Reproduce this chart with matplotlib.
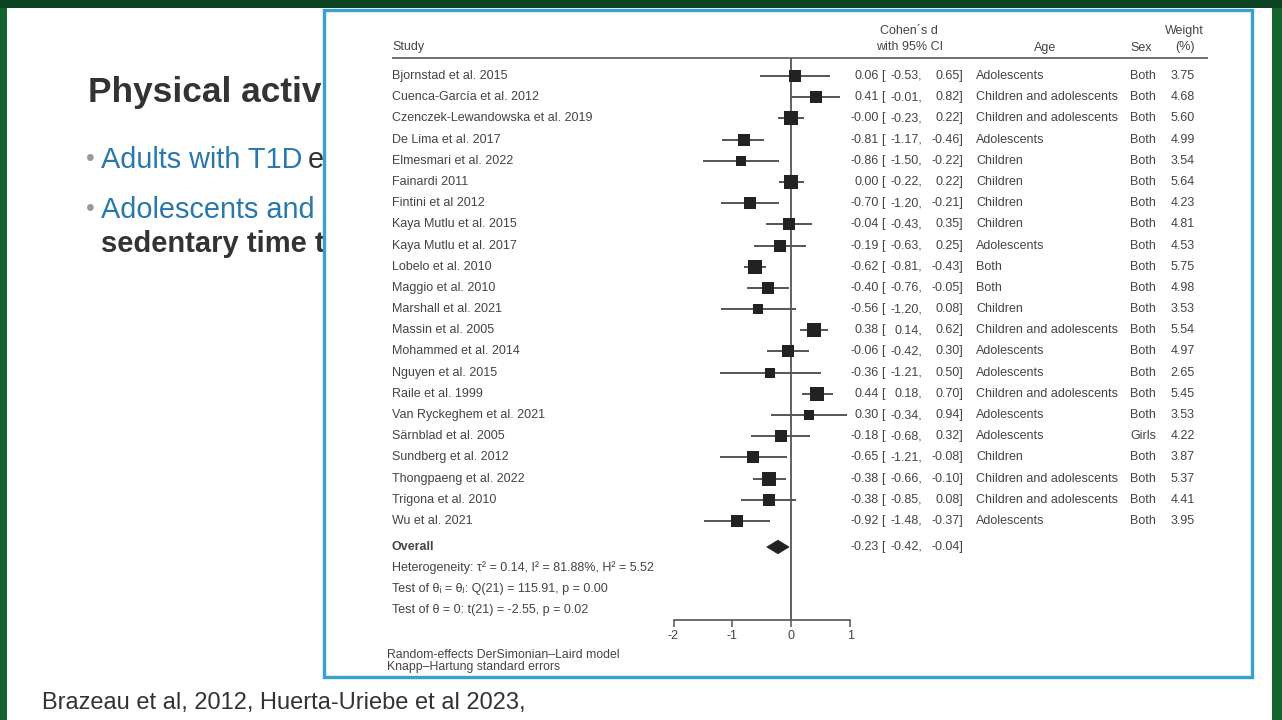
import matplotlib
matplotlib.use("Agg")
import matplotlib.pyplot as plt
import matplotlib.transforms as mtransforms
from matplotlib.patches import Rectangle, Polygon
import numpy as np

plt.rcParams['font.family'] = ['Liberation Sans', 'DejaVu Sans']

studies = ["Bjornstad et al. 2015", "Cuenca-García et al. 2012", "Czenczek-Lewandowska et al. 2019",
           "De Lima et al. 2017", "Elmesmari et al. 2022", "Fainardi 2011", "Fintini et al 2012",
           "Kaya Mutlu et al. 2015", "Kaya Mutlu et al. 2017", "Lobelo et al. 2010", "Maggio et al. 2010",
           "Marshall et al. 2021", "Massin et al. 2005", "Mohammed et al. 2014", "Nguyen et al. 2015",
           "Raile et al. 1999", "Van Ryckeghem et al. 2021", "Särnblad et al. 2005", "Sundberg et al. 2012",
           "Thongpaeng et al. 2022", "Trigona et al. 2010", "Wu et al. 2021"]
est = [0.06, 0.41, -0.00, -0.81, -0.86, 0.00, -0.70, -0.04, -0.19, -0.62, -0.40, -0.56, 0.38, -0.06,
       -0.36, 0.44, 0.30, -0.18, -0.65, -0.38, -0.38, -0.92]
lo = [-0.53, -0.01, -0.23, -1.17, -1.50, -0.22, -1.20, -0.43, -0.63, -0.81, -0.76, -1.20, 0.14, -0.42,
      -1.21, 0.18, -0.34, -0.68, -1.21, -0.66, -0.85, -1.48]
hi = [0.65, 0.82, 0.22, -0.46, -0.22, 0.22, -0.21, 0.35, 0.25, -0.43, -0.05, 0.08, 0.62, 0.30,
      0.50, 0.70, 0.94, 0.32, -0.08, -0.10, 0.08, -0.37]
age = ["Adolescents", "Children and adolescents", "Children and adolescents", "Adolescents", "Children",
       "Children", "Children", "Children", "Adolescents", "Both", "Both", "Children",
       "Children and adolescents", "Adolescents", "Adolescents", "Children and adolescents",
       "Adolescents", "Adolescents", "Children", "Children and adolescents", "Children and adolescents",
       "Adolescents"]
sex = ["Both"] * 17 + ["Girls"] + ["Both"] * 4
weight = [3.75, 4.68, 5.60, 4.99, 3.54, 5.64, 4.23, 4.81, 4.53, 5.75, 4.98, 3.53, 5.54, 4.97, 2.65,
          5.45, 3.53, 4.22, 3.87, 5.37, 4.41, 3.95]
overall = (-0.23, -0.42, -0.04)
xticks = [-2, -1, 0, 1]

W, H = 1282, 720
fig = plt.figure(figsize=(W / 100, H / 100), dpi=100)
fig.patch.set_facecolor('#13632f')

bg = fig.add_axes([0, 0, 1, 1])
bg.set_xlim(0, W)
bg.set_ylim(H, 0)
bg.axis('off')

# slide
bg.add_patch(Rectangle((7, 8), 1265, 712, facecolor='white', edgecolor='none', zorder=0))
bg.add_patch(Rectangle((0, 0), W, 8, facecolor='#0a4222', edgecolor='none', zorder=0))

txt_dark = '#333333'
blue = '#2878ad'
bg.text(88, 102, "Physical activity", fontsize=25.4, fontweight='bold', color=txt_dark, va='baseline', zorder=1)
bg.text(86, 166, "•", fontsize=18, color='#999999', va='baseline', zorder=1)
bg.text(101, 168, "Adults with T1D", fontsize=20.8, color=blue, va='baseline', zorder=1)
bg.text(308, 168, "e", fontsize=20.8, color=txt_dark, va='baseline', zorder=1)
bg.text(86, 216, "•", fontsize=18, color='#999999', va='baseline', zorder=1)
bg.text(101, 218, "Adolescents and", fontsize=20.8, color=blue, va='baseline', zorder=1)
bg.text(101, 252, "sedentary time t", fontsize=21, fontweight='bold', color=txt_dark, va='baseline', zorder=1)
bg.text(42, 709, "Brazeau et al, 2012, Huerta-Uriebe et al 2023,", fontsize=17, color=txt_dark,
        va='baseline', zorder=1)

# chart box
bg.add_patch(Rectangle((324, 10), 928, 667, facecolor='white', edgecolor='#3a9fd2', lw=2.4, zorder=2))

# forest axes
x_left, x_right = 673.5, 850.5
y_top, y_bot = 58, 620
r0, dr = 76, 21.19
ax = fig.add_axes([x_left / W, (H - y_bot) / H, (x_right - x_left) / W, (y_bot - y_top) / H])
ax.set_xlim(-2, 1)
ax.set_ylim((y_bot - r0) / dr, (y_top - r0) / dr)
ax.patch.set_alpha(0)
ax.set_zorder(3)
for s in ['top', 'left', 'right']:
    ax.spines[s].set_visible(False)
ax.spines['bottom'].set_color('#555555')
ax.spines['bottom'].set_linewidth(1.2)
ax.set_yticks([])
ax.set_xticks(xticks)
ax.set_xticklabels([str(t) for t in xticks])
ax.tick_params(axis='x', direction='out', length=5, width=1.1, color='#555555', labelsize=9,
               labelcolor='#444444', pad=2)

gray = '#555555'
ax.axvline(0, color=gray, lw=1.3, zorder=1)
rows = np.arange(len(studies))
ax.hlines(rows, lo, hi, color=gray, lw=1.4, zorder=2)
k = 5.8 * 0.72
for r, e, w in zip(rows, est, weight):
    ax.plot(e, r, marker='s', markersize=k * np.sqrt(w), color='#222222', mec='#222222', mew=0, zorder=3,
            linestyle='none')

ov_row = (547 - r0) / dr
oe, ol, oh = overall
ax.add_patch(Polygon([[ol, ov_row], [oe, ov_row - 0.32], [oh, ov_row], [oe, ov_row + 0.32]],
                     closed=True, facecolor='#222222', edgecolor='#222222', lw=0.5, zorder=3, clip_on=False))

# table text
tr = mtransforms.blended_transform_factory(bg.transData, ax.transData)
tc = '#444444'
fs = 9
hdr = dict(fontsize=fs, color=tc, transform=bg.transData, zorder=4)
bg.text(392, 47, "Study", va='center', ha='left', **hdr)
bg.text(909, 31, "Cohen´s d", va='center', ha='center', **hdr)
bg.text(910, 47, "with 95% CI", va='center', ha='center', **hdr)
bg.text(1045, 48, "Age", va='center', ha='center', **hdr)
bg.text(1141, 48, "Sex", va='center', ha='center', **hdr)
bg.text(1184, 31, "Weight", va='center', ha='center', **hdr)
bg.text(1185, 47, "(%)", va='center', ha='center', **hdr)
bg.plot([392, 1208], [58, 58], color='#666666', lw=1.3, zorder=4, solid_capstyle='butt')

kw = dict(fontsize=fs, color=tc, transform=tr, va='center', zorder=4)
for r in rows:
    ax.text(392, r, studies[r], ha='left', **kw)
    ax.text(879, r, f"{est[r]:.2f}", ha='right', **kw)
    ax.text(881, r, "[", ha='left', **kw)
    ax.text(922, r, f"{lo[r]:.2f},", ha='right', **kw)
    ax.text(963, r, f"{hi[r]:.2f}]", ha='right', **kw)
    ax.text(976, r, age[r], ha='left', **kw)
    ax.text(1130, r, sex[r], ha='left', **kw)
    ax.text(1195, r, f"{weight[r]:.2f}", ha='right', **kw)

ax.text(392, ov_row, "Overall", ha='left', fontweight='bold', **kw)
ax.text(879, ov_row, f"{oe:.2f}", ha='right', **kw)
ax.text(881, ov_row, "[", ha='left', **kw)
ax.text(922, ov_row, f"{ol:.2f},", ha='right', **kw)
ax.text(963, ov_row, f"{oh:.2f}]", ha='right', **kw)

bg.text(392, 568, "Heterogeneity: τ² = 0.14, I² = 81.88%, H² = 5.52", va='center', ha='left', **hdr)
bg.text(392, 589, "Test of θᵢ = θⱼ: Q(21) = 115.91, p = 0.00", va='center', ha='left', **hdr)
bg.text(392, 610, "Test of θ = 0: t(21) = -2.55, p = 0.02", va='center', ha='left', **hdr)
bg.text(387, 655, "Random-effects DerSimonian–Laird model", va='center', ha='left',
        fontsize=8.8, color=tc, zorder=4)
bg.text(387, 667, "Knapp–Hartung standard errors", va='center', ha='left', fontsize=8.8, color=tc, zorder=4)

fig.savefig("out.png", dpi=100, facecolor=fig.get_facecolor())
